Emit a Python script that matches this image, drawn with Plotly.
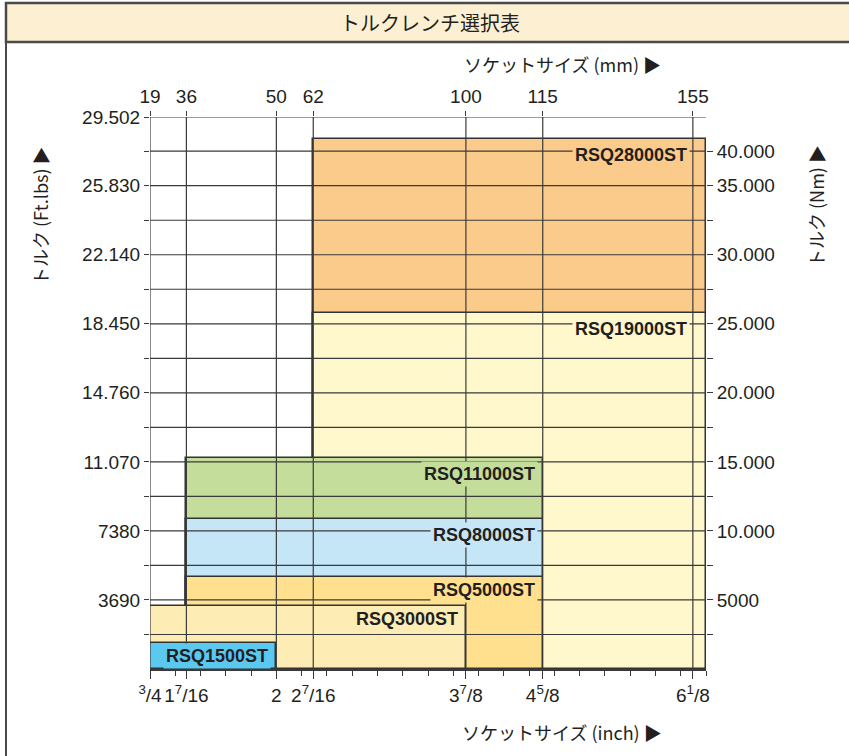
import plotly.graph_objects as go

# ---- data ----
mm_ticks = [19, 36, 50, 62, 100, 115, 155]
inch_labels = ["<sup>3</sup>/4", "1<sup>7</sup>/16", "2", "2<sup>7</sup>/16",
               "3<sup>7</sup>/8", "4<sup>5</sup>/8", "6<sup>1</sup>/8"]
# position of each socket-size gridline on the (inch) axis
grid_pos = [0.75, 1.11, 2.0, 2.365, 3.875, 4.635, 6.12]

ftlb_ticks = [3690, 7380, 11070, 14760, 18450, 22140, 25830, 29502]
ftlb_labels = ["3690", "7380", "11.070", "14.760", "18.450", "22.140", "25.830", "29.502"]
nm_tick_ftlb = [3690, 7380, 11070, 14760, 18450, 22140, 25830, 27675]
nm_labels = ["5000", "10.000", "15.000", "20.000", "25.000", "30.000", "35.000", "40.000"]

products = ["RSQ28000ST", "RSQ19000ST", "RSQ11000ST", "RSQ8000ST",
            "RSQ5000ST", "RSQ3000ST", "RSQ1500ST"]
socket_min_mm = [62, 62, 36, 36, 36, 19, 19]
socket_max_mm = [None, None, 115, 115, 115, 100, 50]   # None = to end of scale
torque_ftlb = [28330, 19030, 11280, 8020, 4920, 3370, 1400]
colors = ["#fbcb8c", "#fff8cc", "#c4dd9b", "#c5e6f7", "#fee08f", "#feecb5", "#5bc8f0"]

X_MIN, X_MAX = 0.75, 6.25
Y_MAX = 29502
pos = dict(zip(mm_ticks, grid_pos))

W, H = 849, 756
L, R, T, B = 150, 706, 117, 669
def px(xp):
    return (xp - L) / (R - L)
def py(yp):
    return (B - yp) / (B - T)

NUM_FONT = "Liberation Sans, Arial, sans-serif"
JP_FONT = "Noto Sans CJK JP, sans-serif"
INK = "#231f20"
GRID = "#3a3a3a"

fig = go.Figure()

for name, lo, hi, top, col in zip(products, socket_min_mm, socket_max_mm, torque_ftlb, colors):
    x0 = pos[lo]
    x1 = X_MAX if hi is None else pos[hi]
    fig.add_trace(go.Bar(
        x=[(x0 + x1) / 2], y=[top], base=0, width=[x1 - x0],
        marker=dict(color=col, line=dict(color="#333333", width=1.5)),
        name=name, showlegend=False, hoverinfo="skip", xaxis="x", yaxis="y"))

# invisible trace to activate the top / right axes
fig.add_trace(go.Scatter(x=[X_MIN], y=[0], mode="markers", marker=dict(opacity=0),
                         xaxis="x2", yaxis="y2", showlegend=False, hoverinfo="skip"))

shapes = []
half = ftlb_ticks[0] / 2
hlines = [half * k for k in range(1, 16)] + [Y_MAX]
for yv in hlines:
    shapes.append(dict(type="line", xref="x", yref="y", x0=X_MIN, x1=X_MAX, y0=yv, y1=yv,
                       line=dict(color=GRID, width=1.2), layer="above"))
for xv in grid_pos:
    shapes.append(dict(type="line", xref="x", yref="y", x0=xv, x1=xv, y0=0, y1=Y_MAX,
                       line=dict(color=GRID, width=1.2), layer="above"))
# title bar
shapes.append(dict(type="rect", xref="paper", yref="paper",
                   x0=px(6), x1=px(870), y0=py(42), y1=py(3),
                   fillcolor="#fdf0d2", line=dict(color="#4a4a4a", width=2.5), layer="below"))
# left frame line
shapes.append(dict(type="line", xref="paper", yref="paper",
                   x0=px(6), x1=px(6), y0=py(42), y1=py(760),
                   line=dict(color="#4a4a4a", width=2), layer="below"))

def ann(text, x, y, size, angle=0):
    return dict(text=text, xref="paper", yref="paper", x=px(x), y=py(y),
                xanchor="center", yanchor="middle", textangle=angle,
                showarrow=False, font=dict(family=JP_FONT, size=size, color=INK))

annotations = [
    ann("トルクレンチ選択表", 430, 22, 20),
    ann("ソケットサイズ (mm) ▶", 562, 64, 18),
    ann("ソケットサイズ (inch) ▶", 562, 732, 18),
    ann("トルク (Ft.lbs) ▶", 40, 216, 18, -90),
    ann("トルク (Nm) ▶", 816, 206, 18, -90),
]
for name, lo, hi, top, col in zip(products, socket_min_mm, socket_max_mm, torque_ftlb, colors):
    x1 = X_MAX if hi is None else pos[hi]
    annotations.append(dict(
        text="<b>" + name + "</b>", xref="x", yref="y", x=x1, y=top,
        xanchor="right", yanchor="middle",
        xshift=-16 if hi is None else -5, yshift=-16 if top > 6000 else -13,
        showarrow=False, bgcolor=col, borderpad=2,
        font=dict(family=NUM_FONT, size=18, color=INK)))

fig.update_layout(
    width=W, height=H, autosize=False,
    margin=dict(l=L, r=W - R, t=T, b=H - B, pad=0),
    paper_bgcolor="white", plot_bgcolor="white",
    barmode="overlay", bargap=0,
    shapes=shapes, annotations=annotations,
    xaxis=dict(range=[X_MIN, X_MAX], tickmode="array", tickvals=grid_pos, ticktext=inch_labels,
               showgrid=False, zeroline=False, showline=True, linecolor=GRID, linewidth=1.5,
               ticks="outside", ticklen=8, tickwidth=1.2, tickcolor=GRID,
               tickfont=dict(family=NUM_FONT, size=19, color=INK),
               minor=dict(tick0=X_MIN, dtick=0.25, ticks="outside", ticklen=5,
                          tickwidth=1.2, tickcolor=GRID, showgrid=False)),
    xaxis2=dict(range=[X_MIN, X_MAX], overlaying="x", side="top", tickmode="array",
                tickvals=grid_pos, ticktext=[str(v) for v in mm_ticks],
                showgrid=False, zeroline=False, showline=False,
                ticks="outside", ticklen=5, tickwidth=1.2, tickcolor=GRID,
                tickfont=dict(family=NUM_FONT, size=19, color=INK)),
    yaxis=dict(range=[0, Y_MAX], tickmode="array", tickvals=hlines,
               ticktext=[ftlb_labels[ftlb_ticks.index(v)] if v in ftlb_ticks else "" for v in hlines],
               showgrid=False, zeroline=False, showline=False,
               ticks="outside", ticklen=5, tickwidth=1.2, tickcolor=GRID,
               tickfont=dict(family=NUM_FONT, size=19, color=INK)),
    yaxis2=dict(range=[0, Y_MAX], overlaying="y", side="right", tickmode="array",
                tickvals=hlines[:-1],
                ticktext=[nm_labels[nm_tick_ftlb.index(v)] if v in nm_tick_ftlb else "" for v in hlines[:-1]],
                showgrid=False, zeroline=False, showline=False,
                ticks="outside", ticklen=6, tickwidth=1.2, tickcolor=GRID,
                tickfont=dict(family=NUM_FONT, size=19, color=INK)),
)

fig.write_html("out.html", config={"displayModeBar": False},
               post_script="document.body.style.margin='0';document.body.style.padding='0';")
